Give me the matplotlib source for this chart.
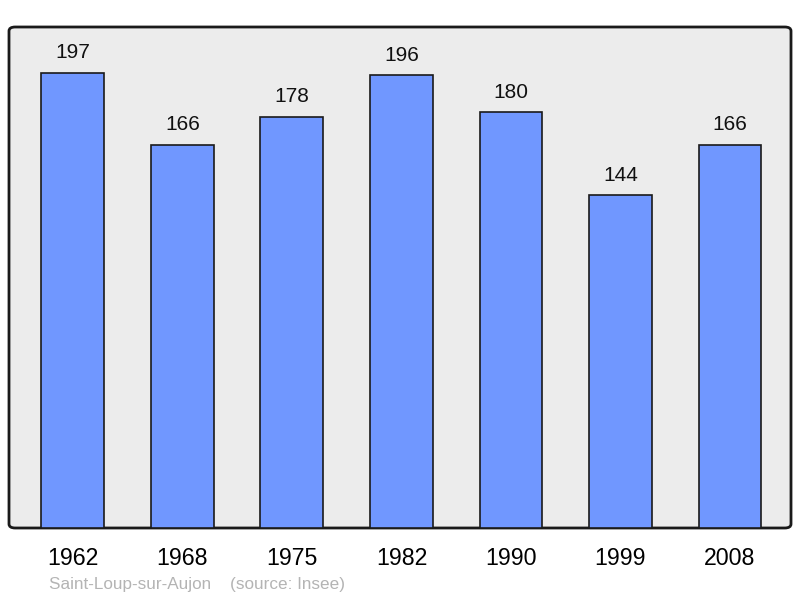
import matplotlib.pyplot as plt
from matplotlib.patches import FancyBboxPatch

plt.rcParams['font.family'] = ['Liberation Sans', 'DejaVu Sans']

years = ['1962', '1968', '1975', '1982', '1990', '1999', '2008']
population = [197, 166, 178, 196, 180, 144, 166]

fig = plt.figure(figsize=(8, 5.98), dpi=100)
ax = fig.add_axes([9 / 800, 70 / 598, 782 / 800, 501 / 598])
ax.set_facecolor('none')

# rounded frame
frame = FancyBboxPatch((0, 0), 1, 1, boxstyle='round,pad=0,rounding_size=0.008',
                       transform=ax.transAxes, facecolor='#ececec',
                       edgecolor='#1a1a1a', linewidth=2, zorder=0, clip_on=False)
ax.add_patch(frame)
for s in ax.spines.values():
    s.set_visible(False)

x = list(range(len(years)))
ax.bar(x, population, width=0.575, color='#7097ff', edgecolor='#1a1a1a',
       linewidth=1.2, zorder=2)
for xi, v in zip(x, population):
    ax.text(xi, v + 8.7, str(v), ha='center', va='center', fontsize=15, color='#111111')

ax.set_xlim(-0.584, 6.557)
ax.set_ylim(0, 216.9)
ax.set_yticks([])
ax.set_xticks(x)
ax.set_xticklabels(years, fontsize=16.7)
ax.tick_params(axis='x', length=0, pad=14)

fig.text(49 / 800, 1 - 585 / 598, 'Saint-Loup-sur-Aujon    (source: Insee)',
         fontsize=12.3, color='#b4b4b4', va='center', ha='left')

fig.savefig('out.png', dpi=100)
